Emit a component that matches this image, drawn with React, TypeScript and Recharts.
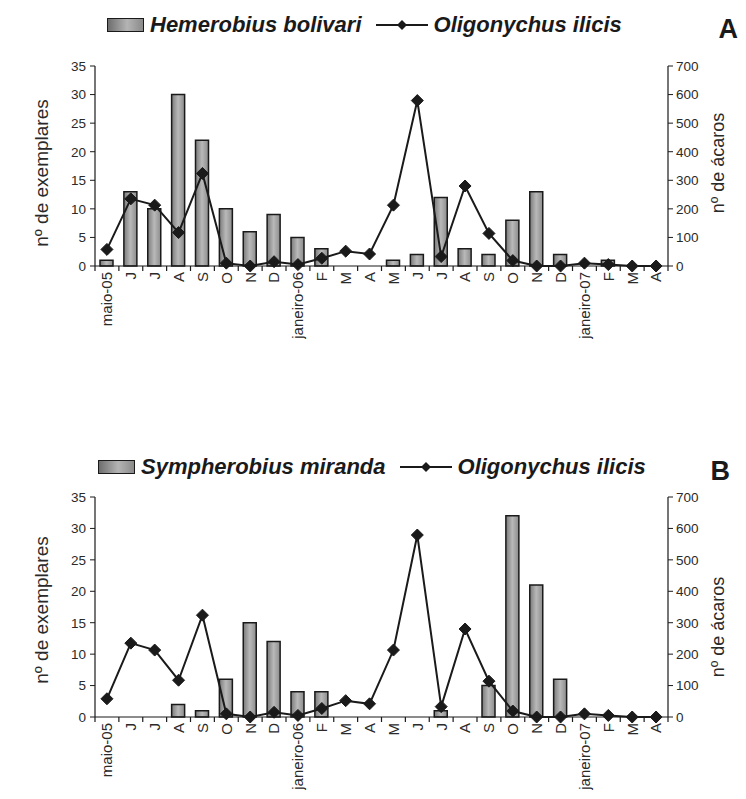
import React from "react";
import { Bar, ComposedChart, Legend, Line, XAxis, YAxis } from "recharts";

const months = [
  "maio-05", "J", "J", "A", "S", "O", "N", "D", "janeiro-06", "F", "M", "A",
  "M", "J", "J", "A", "S", "O", "N", "D", "janeiro-07", "F", "M", "A",
];
const hemerobius = [1, 13, 10, 30, 22, 10, 6, 9, 5, 3, 0, 0, 1, 2, 12, 3, 2, 8, 13, 2, 0, 1, 0, 0];
const sympherobius = [0, 0, 0, 2, 1, 6, 15, 12, 4, 4, 0, 0, 0, 0, 1, 0, 5, 32, 21, 6, 0, 0, 0, 0];
const oligonychus = [58, 235, 213, 117, 324, 10, 0, 15, 5, 27, 52, 42, 213, 579, 33, 280, 114, 19, 0, 0, 10, 5, 0, 0];
const leftTicks = [0, 5, 10, 15, 20, 25, 30, 35];
const rightTicks = [0, 100, 200, 300, 400, 500, 600, 700];

const FONT = '"Liberation Sans", Arial, sans-serif';
const INK = "#1a1a1a";
const LEGEND_H = 26; // recharts adds the legend box height to the top offset

function Diamond(props: any) {
  const { cx, cy } = props;
  if (cx == null || cy == null) return null;
  const r = 6;
  return (
    <polygon
      points={`${cx},${cy - r} ${cx + r},${cy} ${cx},${cy + r} ${cx - r},${cy}`}
      fill={INK}
      stroke={INK}
    />
  );
}

function MonthTick(props: any) {
  const { x, y, payload, index, visibleTicksCount } = props;
  const half = payload?.offset || 12;
  const ty = y + 6;
  return (
    <g>
      <line x1={x - half} x2={x - half} y1={y} y2={y + 5} stroke={INK} strokeWidth={1.2} />
      {index === visibleTicksCount - 1 && (
        <line x1={x + half} x2={x + half} y1={y} y2={y + 5} stroke={INK} strokeWidth={1.2} />
      )}
      <text
        x={x}
        y={ty}
        dy="0.36em"
        textAnchor="end"
        transform={`rotate(-90, ${x}, ${ty})`}
        fill="#2a2a2a"
        fontSize={15}
        fontFamily={FONT}
      >
        {payload.value}
      </text>
    </g>
  );
}

function LegendRow({ payload, left }: any) {
  // bar entry first, like the original figure
  const items = [...(payload || [])].sort((a: any, b: any) => (a.type === "rect" ? -1 : 0) - (b.type === "rect" ? -1 : 0));
  return (
    <div style={{ display: "flex", alignItems: "center", paddingLeft: left, fontFamily: FONT, height: LEGEND_H }}>
      {items.map((it: any) => (
        <div key={it.value} style={{ display: "flex", alignItems: "center", marginRight: 4 }}>
          {it.type === "rect" ? (
            <div
              style={{
                width: 37,
                height: 14,
                border: `1.5px solid ${INK}`,
                background: "linear-gradient(90deg, #6e6e6e, #b4b4b4 55%, #8a8a8a)",
                marginRight: 6,
                boxSizing: "border-box",
              }}
            />
          ) : (
            <svg width={60} height={14} style={{ marginLeft: 6, marginRight: 2 }}>
              <line x1={4} x2={56} y1={7} y2={7} stroke={INK} strokeWidth={2} />
              <polygon points="30,2 35,7 30,12 25,7" fill={INK} />
            </svg>
          )}
          <span style={{ fontSize: 22, fontWeight: 700, fontStyle: "italic", color: INK, lineHeight: "26px" }}>
            {it.value}
          </span>
        </div>
      ))}
    </div>
  );
}

function Panel({ bars, barName, letter, height, top, axisH, legendTop, legendLeft, leftLabelDy, rightLabelDy }: any) {
  const data = months.map((m, i) => ({ month: m, insects: bars[i], mites: oligonychus[i] }));
  const gid = `grad-${letter}`;
  return (
    <div style={{ position: "relative", width: 746, height }}>
      <ComposedChart
        width={746}
        height={height}
        data={data}
        barSize={13}
        margin={{ top: top - LEGEND_H, right: 38, bottom: height - top - axisH.plot - axisH.x, left: 35 }}
      >
        <defs>
          <linearGradient id={gid} x1="0" x2="1" y1="0" y2="0">
            <stop offset="0%" stopColor="#7a7a7a" />
            <stop offset="50%" stopColor="#b9b9b9" />
            <stop offset="100%" stopColor="#8c8c8c" />
          </linearGradient>
        </defs>
        <XAxis
          dataKey="month"
          interval={0}
          height={axisH.x}
          tickSize={0}
          tickMargin={0}
          tickLine={false}
          tick={<MonthTick />}
          axisLine={{ stroke: INK, strokeWidth: 1.2 }}
        />
        <YAxis
          yAxisId="left"
          width={60}
          domain={[0, 35]}
          ticks={leftTicks}
          interval={0}
          tickSize={5}
          tickMargin={4}
          axisLine={{ stroke: INK, strokeWidth: 1.2 }}
          tickLine={{ stroke: INK }}
          tick={{ fill: "#2a2a2a", fontSize: 13.5, fontFamily: FONT }}
          label={{
            content: ({ viewBox }: any) => {
              const cx = viewBox.x + 6;
              const cy = viewBox.y + viewBox.height / 2 + leftLabelDy;
              return (
                <text x={cx} y={cy} transform={`rotate(-90, ${cx}, ${cy})`} textAnchor="middle" dy="0.36em"
                  fontSize={19} fontFamily={FONT} fill="#2a2a2a">
                  nº de exemplares
                </text>
              );
            },
          }}
        />
        <YAxis
          yAxisId="right"
          orientation="right"
          width={40}
          domain={[0, 700]}
          ticks={rightTicks}
          interval={0}
          tickSize={5}
          tickMargin={3}
          axisLine={{ stroke: INK, strokeWidth: 1.2 }}
          tickLine={{ stroke: INK }}
          tick={{ fill: "#2a2a2a", fontSize: 13.5, fontFamily: FONT }}
          label={{
            content: ({ viewBox }: any) => {
              const cx = viewBox.x + 50;
              const cy = viewBox.y + viewBox.height / 2 + rightLabelDy;
              return (
                <text x={cx} y={cy} transform={`rotate(-90, ${cx}, ${cy})`} textAnchor="middle" dy="0.36em"
                  fontSize={18} fontFamily={FONT} fill="#2a2a2a">
                  nº de ácaros
                </text>
              );
            },
          }}
        />
        <Legend
          verticalAlign="top"
          wrapperStyle={{ top: legendTop, left: 0, width: 746 }}
          content={(p: any) => <LegendRow payload={p.payload} left={legendLeft} />}
        />
        <Bar
          yAxisId="left"
          dataKey="insects"
          name={barName}
          legendType="rect"
          fill={`url(#${gid})`}
          stroke={INK}
          strokeWidth={1.5}
          isAnimationActive={false}
        />
        <Line
          yAxisId="right"
          dataKey="mites"
          name="Oligonychus ilicis"
          type="linear"
          stroke={INK}
          strokeWidth={2}
          dot={<Diamond />}
          activeDot={false}
          isAnimationActive={false}
        />
      </ComposedChart>
      <div
        style={{
          position: "absolute",
          right: letter === "A" ? 8 : 16,
          top: legendTop + 2,
          fontFamily: FONT,
          fontWeight: 700,
          fontSize: 27,
          color: INK,
        }}
      >
        {letter}
      </div>
    </div>
  );
}

export default function App() {
  return (
    <div style={{ position: "absolute", left: 0, top: 0, width: 746, height: 799, background: "#fff", overflow: "hidden" }}>
      <Panel
        bars={hemerobius}
        barName="Hemerobius bolivari"
        letter="A"
        height={430}
        top={66}
        axisH={{ plot: 200, x: 110 }}
        legendTop={12}
        legendLeft={107}
        leftLabelDy={7}
        rightLabelDy={-3}
      />
      <Panel
        bars={sympherobius}
        barName="Sympherobius miranda"
        letter="B"
        height={369}
        top={67}
        axisH={{ plot: 220, x: 80 }}
        legendTop={24}
        legendLeft={98}
        leftLabelDy={3}
        rightLabelDy={20}
      />
    </div>
  );
}
